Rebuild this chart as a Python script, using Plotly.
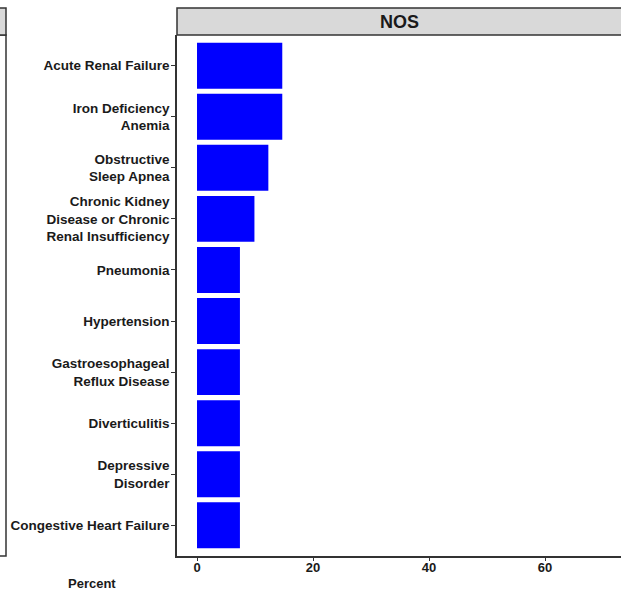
import plotly.graph_objects as go

categories = [
    "Acute Renal Failure",
    "Iron Deficiency<br>Anemia",
    "Obstructive<br>Sleep Apnea",
    "Chronic Kidney<br>Disease or Chronic<br>Renal Insufficiency",
    "Pneumonia",
    "Hypertension",
    "Gastroesophageal<br>Reflux Disease",
    "Diverticulitis",
    "Depressive<br>Disorder",
    "Congestive Heart Failure",
]
percent = [14.7, 14.7, 12.3, 9.9, 7.4, 7.4, 7.4, 7.4, 7.4, 7.4]
x_ticks = [0, 20, 40, 60]
panel_title = "NOS"
x_title = "Percent"

W, H = 621, 595
ml, mr, mt, mb = 177, 0, 35, 39
pw = W - ml - mr
ph = H - mt - mb

def px_x(p):
    return (p - ml) / pw

def px_y(p):
    return (H - mb - p) / ph

FONT = "Liberation Sans, Arial, sans-serif"
EDGE = "#333333"

fig = go.Figure(
    go.Bar(
        x=percent,
        y=categories,
        orientation="h",
        width=0.9,
        marker=dict(color="#0000FF", line=dict(width=0)),
        hoverinfo="skip",
    )
)

shapes = [
    # strip of NOS panel
    dict(type="rect", xref="paper", yref="paper", x0=0, x1=1.02, y0=1, y1=px_y(8),
         fillcolor="#D9D9D9", line=dict(color=EDGE, width=1.5), layer="above"),
    # partial left panel
    dict(type="rect", xref="paper", yref="paper", x0=-0.5, x1=px_x(6), y0=0, y1=1,
         fillcolor="rgba(0,0,0,0)", line=dict(color=EDGE, width=1.5)),
    dict(type="rect", xref="paper", yref="paper", x0=-0.5, x1=px_x(6), y0=1, y1=px_y(8),
         fillcolor="#D9D9D9", line=dict(color=EDGE, width=1.5)),
]

annotations = [
    dict(text=f"<b>{panel_title}</b>", xref="paper", yref="paper", x=0.5, y=px_y(21.5),
         showarrow=False, font=dict(family=FONT, size=18, color="#1a1a1a"),
         xanchor="center", yanchor="middle"),
    dict(text=f"<b>{x_title}</b>", xref="paper", yref="paper", x=px_x(92), y=px_y(583),
         showarrow=False, font=dict(family=FONT, size=13, color="#1a1a1a"),
         xanchor="center", yanchor="middle"),
]

fig.update_layout(
    width=W, height=H,
    margin=dict(l=ml, r=mr, t=mt, b=mb, pad=0),
    paper_bgcolor="white", plot_bgcolor="white",
    showlegend=False,
    shapes=shapes,
    annotations=annotations,
)

fig.update_xaxes(
    range=[-3.45, 73.1],
    tickvals=x_ticks,
    ticktext=[f"<b>{v}</b>" for v in x_ticks],
    showgrid=False, zeroline=False,
    showline=True, linecolor=EDGE, linewidth=1.5,
    ticks="outside", ticklen=3, tickcolor=EDGE, tickwidth=1,
    ticklabelstandoff=-4,
    tickfont=dict(family=FONT, size=13, color="#1a1a1a"),
)
fig.update_yaxes(
    type="category",
    categoryorder="array", categoryarray=categories,
    range=[len(categories) - 0.4, -0.6],
    tickvals=categories,
    ticktext=[f"<b>{c}</b>" for c in categories],
    showgrid=False, zeroline=False,
    showline=True, linecolor=EDGE, linewidth=1.5,
    ticks="outside", ticklen=4, tickcolor=EDGE, tickwidth=1,
    ticklabelstandoff=-1,
    tickfont=dict(family=FONT, size=13.5, color="#1a1a1a"),
)

fig.write_html(
    "out.html",
    config={"displayModeBar": False},
    post_script="document.body.style.margin='0';document.body.style.overflow='hidden';",
)
